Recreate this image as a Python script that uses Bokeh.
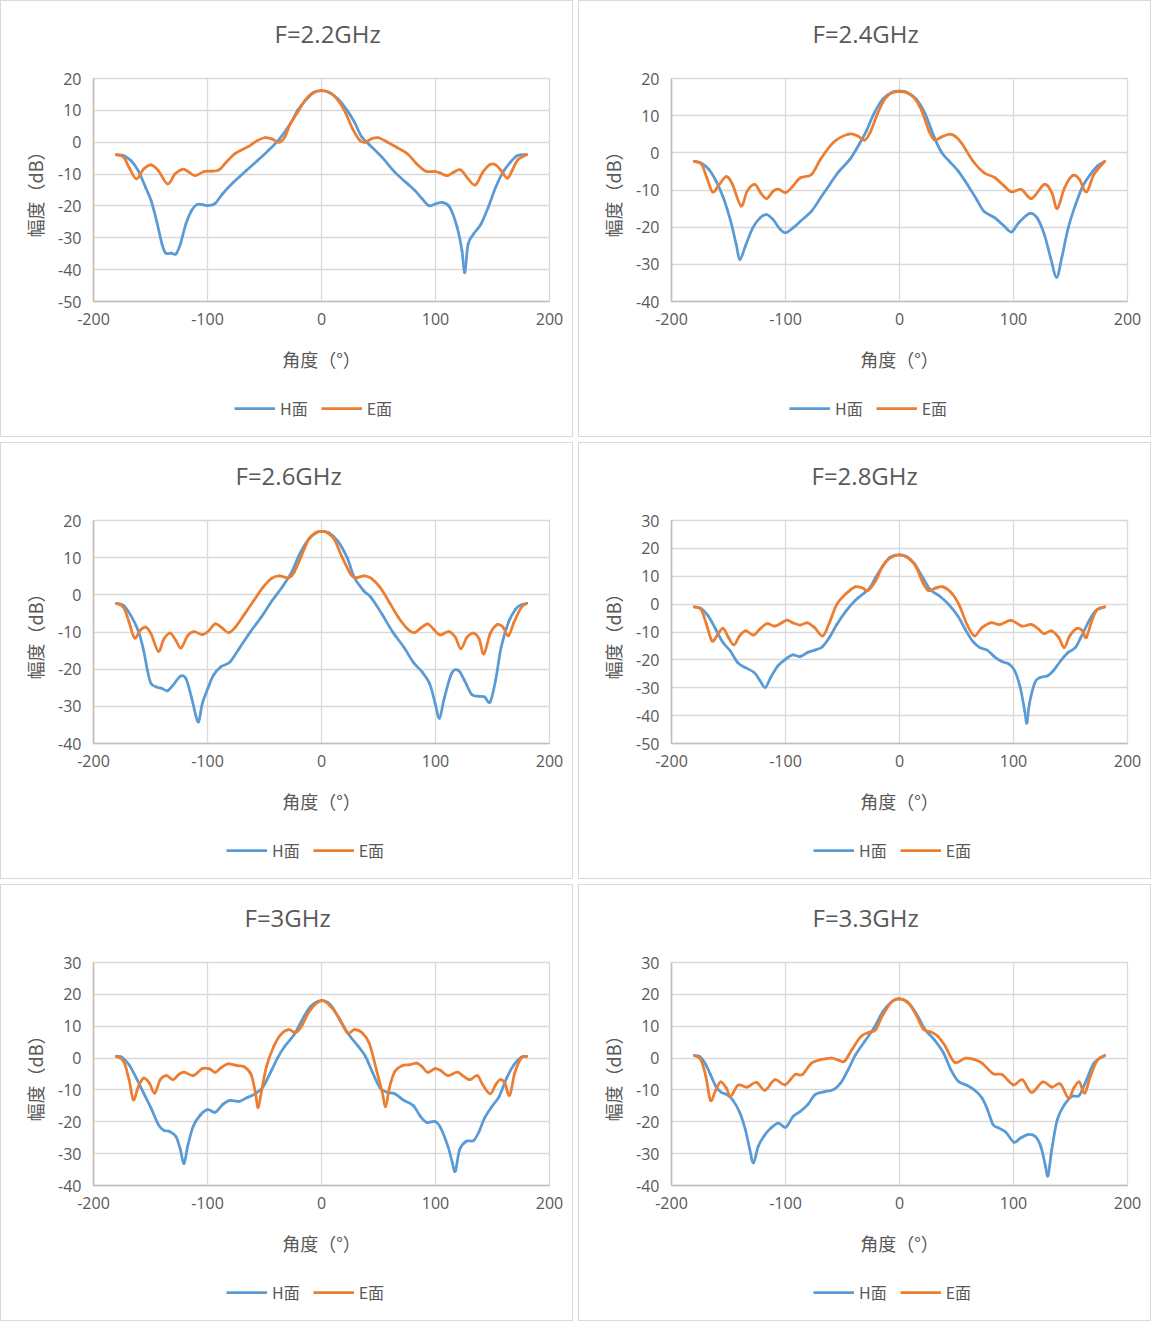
import numpy as np
from bokeh.plotting import figure
from bokeh.models import Range1d, FixedTicker, Legend, LegendItem
from bokeh.layouts import row, column
from bokeh.embed import file_html
from bokeh.resources import INLINE

# ---------------- data ----------------
titles = ["F=2.2GHz", "F=2.4GHz", "F=2.6GHz", "F=2.8GHz", "F=3GHz", "F=3.3GHz"]
series_names = ["H面", "E面"]
x_ticks = [-200, -100, 0, 100, 200]
y_limits = [(-50, 20), (-40, 20), (-40, 20), (-50, 30), (-40, 30), (-40, 30)]

# F=2.2GHz
h22_x = [-180, -173.6, -167, -160.8, -154.3, -149.5, -144.7, -139.9, -136.7, -131.8, -127.7, -123.8, -119, -114.1, -109.3, -104.5, -99.7, -93.2, -86.8, -77.2, -65.9, -56.3, -46.6, -37, -27.3, -20.9, -12.9, -6.4, 0, 6.4, 14.5, 22.5, 28.9, 35.4, 41.8, 53, 64.3, 74, 82, 88.4, 94.2, 99.7, 106.1, 112.5, 119, 123.2, 125.7, 128.6, 133.4, 139.9, 146.3, 152.7, 159.2, 165.6, 172, 180]
h22_y = [-4, -4.2, -5.8, -8.9, -14.2, -18.3, -24.6, -32, -34.8, -34.8, -35.1, -32, -25.7, -21.5, -19.6, -19.6, -19.9, -19.2, -16.2, -12.6, -8.9, -5.8, -2.6, 1, 5.8, 10, 13.6, 15.7, 16.2, 15.7, 13.6, 10, 6.3, 1.6, -0.7, -4.7, -9.4, -12.6, -15.2, -17.8, -19.9, -19.4, -18.9, -20.4, -26.7, -34, -40.9, -32, -28.8, -25.7, -20.4, -14.2, -9.4, -6.3, -4.2, -3.9]
e22_x = [-180, -173.6, -168.8, -162.4, -156, -149.5, -143.1, -135, -128.6, -122.2, -117.4, -110.9, -102.9, -96.5, -90, -83.6, -75.6, -64.3, -56.3, -49.8, -43.4, -37, -32.2, -27.3, -20.9, -14.5, -8, 0, 8, 14.5, 20.9, 27.3, 33.8, 38.6, 43.4, 49.8, 57.9, 65.9, 75.6, 83.6, 91.6, 99.7, 104.5, 110.3, 115.8, 122.2, 128.6, 135, 141.5, 147.9, 152.7, 157.6, 163, 167.2, 172, 180]
e22_y = [-3.9, -4.7, -7.9, -11.5, -8.4, -7.1, -8.9, -13.1, -10, -8.5, -9.1, -10.5, -9.2, -9.1, -8.7, -6.3, -3.5, -1.4, 0.5, 1.4, 1, 0, 1.6, 5.8, 9.4, 13.1, 15.4, 16.2, 15.4, 13.1, 9.4, 4.2, 0.5, 0, 1, 1.4, 0, -1.6, -3.7, -6.8, -9.1, -9.2, -9.7, -10.5, -9.4, -8.7, -11.5, -13.4, -9.4, -7, -7.1, -8.9, -11.3, -8.9, -5.6, -3.9]

# F=2.4GHz
h24_x = [-180, -173.8, -167.4, -160.9, -154.5, -148.1, -143.2, -140, -135.2, -128.7, -122.3, -116.5, -111, -104.6, -99.8, -93.4, -86.9, -77.2, -69.2, -61.2, -53.1, -43.4, -35.4, -29, -22.5, -14.5, -6.4, 0, 6.4, 14.5, 22.5, 30.6, 37, 43.5, 51.5, 59.5, 67.6, 74, 83.7, 91.7, 98.2, 104.6, 114.3, 120.7, 127.1, 132.6, 137.8, 142.3, 148, 154.5, 160.9, 167.4, 173.8, 180]
h24_y = [-2.3, -2.8, -4.4, -7.6, -12.1, -18.4, -24.7, -28.7, -25.1, -20.2, -17.5, -16.6, -17.9, -20.6, -21.5, -20.2, -18.4, -15.7, -12.1, -8.5, -5, -1.7, 2.3, 5.9, 10.5, 14.5, 16.3, 16.6, 16.3, 14.5, 10.5, 4.1, 0.1, -2.2, -4.9, -8.5, -12.5, -15.7, -17.5, -19.7, -21.3, -18.8, -16.3, -17.5, -22, -28.3, -33.5, -28.3, -20.2, -13.9, -8.9, -5.8, -3.5, -2.3]
e24_x = [-180, -173.8, -169, -164, -159, -152, -146.5, -139, -133.6, -127, -122, -116.6, -110.8, -106, -99.8, -93.4, -86.9, -77.2, -69.2, -58, -45, -37, -30.6, -25.7, -19.3, -12.9, -6.4, 0, 6.4, 12.9, 19.3, 25.7, 30.6, 37, 43.5, 49, 54.7, 64.4, 74, 83.7, 91.7, 98.2, 107, 115.9, 127, 133.6, 138.4, 144.8, 151.9, 157.7, 164, 170.6, 180]
e24_y = [-2.3, -3, -6.7, -10.5, -8.9, -6.4, -8.5, -14.3, -10.3, -8.5, -10.7, -12.3, -10.3, -9.8, -10.7, -8.9, -6.7, -5.8, -1.7, 2.8, 5, 4.6, 3.4, 5.5, 10.5, 14.5, 16.2, 16.5, 16.2, 14.8, 11.5, 6, 3.5, 4.3, 5, 4.4, 2.5, -2.2, -5.3, -6.7, -8.9, -10.5, -9.9, -12.3, -8.5, -10.7, -15, -9.4, -6.1, -7.1, -10.5, -5.8, -2.3]

# F=2.6GHz
h26_x = [-180, -173.6, -167.2, -160.8, -156, -152.7, -149.5, -144.7, -139.9, -135, -130.2, -123.8, -119, -114.1, -110.3, -107.7, -104.5, -99.7, -94.9, -88.4, -80.4, -72.3, -62.7, -53.1, -43.4, -33.8, -25.7, -19.3, -11.3, -4.8, 0, 6.4, 14.5, 22.5, 28.9, 37, 43.4, 53.1, 62.7, 72.3, 80.4, 88.4, 94.9, 99.7, 103.5, 107.7, 114.1, 119.9, 125.4, 131.8, 138.3, 143.1, 147.9, 152.7, 157.6, 164, 170.4, 175.2, 180]
h26_y = [-2.3, -2.9, -5.6, -9.6, -15, -20.3, -23.9, -24.8, -25.2, -25.8, -24.3, -21.9, -22.5, -27.5, -32.4, -34.1, -29.2, -25.2, -21.7, -19.4, -18.1, -14.5, -10.1, -6.1, -1.6, 2.4, 6.4, 10.9, 14.9, 16.7, 17.1, 16.7, 14.4, 10, 4.6, 1.1, -0.7, -5.2, -10.1, -14.1, -18.1, -20.8, -23.9, -29.2, -33.2, -27.8, -21.2, -20.3, -23, -26.8, -27.3, -27.5, -28.8, -23, -14.1, -7.4, -3.8, -2.7, -2.3]
e26_x = [-180, -173.6, -168.8, -164, -159.2, -154.3, -149.5, -143.1, -138.3, -132.8, -127.7, -123.2, -117.4, -111.9, -104.5, -98.7, -93.2, -86.8, -81.4, -75.6, -67.5, -59.5, -51.4, -43.4, -37, -28.9, -24.1, -17.7, -11.3, -4.8, 0, 4.8, 11.3, 17.7, 25.7, 30.5, 37, 43.4, 51.4, 59.5, 67.5, 75.6, 81.4, 86.8, 93.2, 98.1, 103.9, 111.6, 117.4, 122.2, 127.7, 133.4, 138.3, 142.4, 147.9, 154.3, 159.2, 164, 168.8, 175.2, 180]
e26_y = [-2.3, -3.4, -7.4, -11.6, -9.6, -8.7, -10.5, -15.2, -11.9, -10.3, -12.3, -14.3, -11, -9.9, -10.7, -9.6, -7.8, -9, -10.2, -8.7, -5.2, -1.6, 2, 4.5, 5.1, 4.6, 6, 10.4, 14.9, 16.8, 17.1, 16.8, 14.9, 10.4, 5.5, 4.6, 5.1, 4.5, 2, -2, -6.1, -9.2, -10.2, -9, -7.8, -9.2, -10.8, -9.9, -11.4, -14.5, -11.4, -10.3, -11.9, -15.9, -10.5, -8, -8.7, -11, -7.4, -3.4, -2.3]

# F=2.8GHz
h28_x = [-180, -174.1, -167.7, -161.2, -154.8, -148.4, -141.9, -135.5, -127.5, -122.6, -117.8, -113, -106.5, -100.1, -93.7, -87.2, -80.8, -74.3, -67.9, -61.5, -55, -47, -38.9, -30.9, -26.1, -21.2, -14.8, -8.4, 0, 6.1, 12.6, 20.6, 27, 35.1, 43.1, 51.2, 57.6, 64, 70.5, 76.9, 83.4, 89.8, 96.2, 101.1, 105.9, 109.8, 111.7, 113.9, 118.8, 123.6, 130, 134.9, 141.3, 147.7, 154.2, 159, 165.4, 171.9, 180]
h28_y = [-1, -1.5, -4.3, -9, -13.8, -16.8, -21, -22.7, -24.5, -27.3, -29.9, -26.3, -22.1, -19.8, -18.2, -18.8, -17.4, -16.5, -15.4, -12, -7.3, -2.5, 1.3, 4, 5.8, 9.4, 13.6, 16.8, 17.7, 17.1, 14.8, 9.4, 5.2, 2.9, -0.1, -4.3, -9, -13.2, -15.6, -16.5, -18.9, -20.6, -21.5, -23.9, -29.9, -38.2, -42.7, -35.8, -28.1, -26.3, -25.7, -23.9, -20.4, -17.4, -15.6, -12, -6.7, -2.5, -1]
e28_x = [-180, -174.1, -169.3, -164.5, -160.3, -154.8, -150, -145.2, -140.3, -134.9, -128.1, -122.6, -116.2, -109.7, -103.3, -98.5, -93.7, -87.2, -80.8, -74.3, -67.3, -61.5, -55, -47, -38.9, -32.5, -27.7, -21.2, -14.8, -8.4, 0, 7.7, 14.2, 20.6, 25.4, 31.9, 38.3, 46.3, 52.8, 59.2, 65.7, 72.1, 80.1, 88.2, 97.8, 107.5, 115.5, 122, 126.8, 133.2, 139.7, 144.5, 149.3, 155.8, 160.6, 163.8, 168.6, 173.5, 180]
e28_y = [-1, -1.9, -7.3, -13.2, -11.4, -8.7, -12, -14.6, -11.4, -9.6, -11.1, -9, -7, -7.9, -6.7, -5.7, -6.7, -7.5, -6.7, -8.5, -11.4, -6.7, -0.1, 3.7, 6.2, 5.8, 4.9, 8.2, 13.6, 16.5, 17.7, 16.5, 13.6, 7.6, 4.9, 5.8, 6.2, 3.7, -0.7, -7.3, -11.4, -8.5, -6.7, -7.3, -5.8, -7.9, -7.3, -9, -10.6, -9.6, -12, -15.6, -11.4, -8.7, -9.6, -12, -6.1, -1.9, -1]

# F=3GHz
h30_x = [-180, -175.2, -168.8, -162.4, -156, -149.5, -143.1, -138.3, -133.5, -127.7, -123.8, -120.6, -117.4, -112.5, -106.1, -99.7, -93.2, -86.8, -80.4, -72.3, -65.9, -57.9, -51.4, -45, -38.6, -32.2, -24.1, -17.7, -9.6, 0, 8, 16.1, 24.1, 32.2, 38.6, 45, 51.4, 57.9, 64.3, 72.3, 80.4, 86.8, 92.3, 99.7, 104.5, 110.9, 114.8, 117.4, 121.2, 127, 133.4, 138.3, 143.1, 149.5, 155.9, 162.4, 168.8, 175.2, 180]
h30_y = [0.5, 0.3, -2.1, -6.3, -11, -15.7, -20.9, -22.7, -23, -24.6, -28.7, -33.1, -27.7, -21.4, -17.8, -16.2, -17, -14.6, -13.3, -13.6, -12.5, -11.2, -9.1, -4.7, 0, 3.7, 7.3, 11.5, 16.2, 18, 16.7, 12, 7.3, 3.7, 0.5, -4.7, -9.4, -10.8, -11.2, -13.3, -14.9, -18.3, -20.2, -19.9, -21.9, -27.7, -32.9, -35.5, -28.7, -26.1, -25.9, -23, -18.8, -15.2, -12, -6.3, -2.1, 0.3, 0.5]
e30_x = [-180, -173.6, -168.8, -165, -160.8, -156, -151.1, -146.3, -141.5, -136, -130.2, -125.4, -120.6, -112.5, -104.5, -98.1, -93.2, -88.4, -82, -74, -67.5, -61.7, -57.9, -55.6, -52.4, -48.2, -41.8, -35.4, -28.9, -22.5, -17.7, -9.6, 0, 8, 14.5, 22.5, 28.9, 35.4, 41.8, 48.2, 53.1, 56.3, 59.5, 64.3, 70.7, 77.2, 83.6, 88.4, 93.2, 99.7, 104.5, 110.9, 119, 123.8, 130.2, 136.7, 141.5, 147.9, 152.7, 156.6, 160.8, 165, 169.5, 175.2, 180]
e30_y = [0.5, -1, -6.8, -13.1, -9.1, -6.3, -7.8, -11, -6.8, -5.5, -6.8, -5.2, -4.4, -5.5, -3.3, -3.4, -4.5, -3.1, -1.8, -2.4, -2.8, -5.2, -11, -15.5, -9.9, -2.6, 3.7, 7.5, 8.9, 8, 9.9, 15.2, 18, 16.2, 13.1, 8, 8.9, 8, 4.7, -3.7, -10.4, -15.2, -9.4, -4.2, -2.4, -2.1, -1.6, -2.8, -4.5, -3.3, -3.9, -5.5, -4.4, -5.5, -6.8, -5.5, -8.4, -11.2, -8.4, -6.8, -7.8, -11.7, -4.7, 0, 0.5]

# F=3.3GHz
h33_x = [-180, -175.4, -170.6, -165.8, -161, -156.1, -151.3, -146.4, -140, -135.2, -131.3, -128.1, -123.9, -119.1, -112.6, -106.2, -99.8, -93.3, -86.9, -80.5, -74, -66, -57.9, -51.5, -45.1, -38.6, -30.6, -22.5, -14.5, -6.4, 0, 6.4, 14.5, 22.5, 30.6, 38.6, 45.1, 51.5, 59.5, 66, 72.4, 77.2, 82.1, 86.9, 93.3, 100.4, 106.2, 112.6, 119.1, 123.9, 128.1, 130.3, 133.6, 138.4, 144.8, 151.3, 157.7, 164.1, 170.6, 180]
h33_y = [0.8, 0.5, -1.6, -5.2, -8.9, -10.8, -11.5, -13.1, -17.2, -22.5, -28.7, -32.9, -27.7, -24.6, -21.9, -20.4, -21.7, -18.3, -16.7, -14.6, -11.5, -10.6, -9.9, -7.8, -3.7, 1, 5.2, 9.4, 14.6, 17.8, 18.6, 17.8, 14.1, 8.9, 5.7, 1.6, -3.7, -7.3, -8.6, -10.1, -12.5, -16.2, -20.9, -21.9, -23.3, -26.4, -25.1, -24, -24.6, -27.7, -34, -36.9, -28.7, -19.3, -14.6, -12, -11.7, -6.8, -1.6, 0.8]
e33_x = [-180, -174.4, -169.9, -165.8, -161.6, -157.1, -151.9, -148.1, -141.6, -133.6, -125.5, -118.1, -109.4, -100.4, -91.7, -85.3, -77.2, -69.2, -59.5, -53.1, -48.3, -41.8, -33.8, -25.7, -20.9, -14.5, -6.4, 0, 8, 14.5, 20.9, 27.4, 33.8, 40.2, 48.3, 57.9, 66, 72.4, 82.1, 90.1, 99.8, 107.8, 115.9, 125.5, 133.6, 141, 148.1, 152.9, 157.7, 162.5, 167.4, 173.8, 180]
e33_y = [0.8, -0.5, -5.7, -13.3, -10.4, -7.5, -9.4, -12, -8.5, -9.1, -7.6, -10.1, -6.8, -8.4, -5.2, -5.2, -1.6, -0.5, 0, -0.7, -1, 2.6, 6.8, 8.2, 8.9, 13.6, 17.8, 18.6, 17.2, 13.6, 9.1, 8.2, 6.8, 3.7, -1.3, 0, -0.5, -1.6, -4.9, -5.2, -8.4, -6.8, -10.8, -7.5, -9.1, -8.1, -12.5, -9.4, -7.5, -11, -5.7, -0.5, 0.8]

panel_data = [
    (h22_x, h22_y, e22_x, e22_y),
    (h24_x, h24_y, e24_x, e24_y),
    (h26_x, h26_y, e26_x, e26_y),
    (h28_x, h28_y, e28_x, e28_y),
    (h30_x, h30_y, e30_x, e30_y),
    (h33_x, h33_y, e33_x, e33_y),
]

# ---------------- styling / layout ----------------
H_COLOR = "#5B9BD5"
E_COLOR = "#ED7D31"
TEXT = "#595959"
GRID = "#D9D9D9"
AXIS = "#BFBFBF"
LATIN = "Open Sans"
CJK = "Noto Sans CJK SC"
CANVAS_W = 571
FW, FH = 456, 223
LEFT, TOP, BOTTOM = 92, 77, 80
LEG_H = 55
TITLE_PX = 24
title_centers = [326, 285.5, 286.5, 285, 286, 285.5]   # title centre inside panel (px)
legend_lefts = [233, 210, 225, 234, 225, 234]          # legend left edge inside panel (px)
CHAR_EM = {"F": 0.55, "=": 0.57, ".": 0.27, "G": 0.73, "H": 0.74, "z": 0.49}


def text_width(s, px):
    return sum(CHAR_EM.get(c, 0.57) for c in s) * px * 0.978


def smooth(xs, ys):
    """Catmull-Rom smoothing (like a spreadsheet 'smoothed line') as Bezier segments."""
    x = np.asarray(xs, float)
    y = np.asarray(ys, float)
    px = np.concatenate([[x[0]], x, [x[-1]]])
    py = np.concatenate([[y[0]], y, [y[-1]]])
    n = len(x)
    return dict(
        x0=px[1:n], y0=py[1:n], x1=px[2:n + 1], y1=py[2:n + 1],
        cx0=px[1:n] + (px[2:n + 1] - px[0:n - 1]) / 6.0,
        cy0=py[1:n] + (py[2:n + 1] - py[0:n - 1]) / 6.0,
        cx1=px[2:n + 1] - (px[3:n + 2] - px[1:n]) / 6.0,
        cy1=py[2:n + 1] - (py[3:n + 2] - py[1:n]) / 6.0,
    )


def make_panel(i):
    title, ylim = titles[i], y_limits[i]
    hx, hy, ex, ey = panel_data[i]
    yt = list(range(ylim[0], ylim[1] + 1, 10))
    p = figure(frame_width=FW, frame_height=FH, output_backend="svg",
               toolbar_location=None,
               x_range=Range1d(-200, 200), y_range=Range1d(ylim[0], ylim[1]),
               min_border_left=LEFT, min_border_right=CANVAS_W - LEFT - FW,
               min_border_top=TOP, min_border_bottom=BOTTOM)
    p.title.text = title
    p.title.align = "left"
    p.title.offset = int(round(title_centers[i] - LEFT - text_width(title, TITLE_PX) / 2))
    p.title.standoff = 0
    p.title.padding = (0, 0, 1, 29)
    p.title.text_font = LATIN
    p.title.text_font_size = f"{TITLE_PX}px"
    p.title.text_font_style = "normal"
    p.title.text_color = TEXT

    p.outline_line_color = GRID
    p.outline_line_width = 1.3
    p.grid.grid_line_color = GRID
    p.grid.grid_line_width = 1.3

    p.xaxis.ticker = FixedTicker(ticks=x_ticks)
    p.yaxis.ticker = FixedTicker(ticks=yt)
    p.xaxis.major_label_overrides = {t: str(t) for t in x_ticks}
    p.yaxis.major_label_overrides = {t: str(t) for t in yt}
    for ax in (p.xaxis, p.yaxis):
        ax.axis_line_color = AXIS
        ax.axis_line_width = 1.6
        ax.major_tick_line_color = None
        ax.minor_tick_line_color = None
        ax.major_tick_out = 0
        ax.major_tick_in = 0
        ax.minor_tick_out = 0
        ax.minor_tick_in = 0
        ax.major_label_text_font = LATIN
        ax.major_label_text_font_size = "16px"
        ax.major_label_text_color = TEXT
        ax.axis_label_text_font = CJK
        ax.axis_label_text_font_size = "18px"
        ax.axis_label_text_font_style = "normal"
        ax.axis_label_text_color = TEXT
    p.xaxis.major_label_standoff = 11
    p.yaxis.major_label_standoff = 12
    p.xaxis.axis_label = "角度（°）"
    p.yaxis.axis_label = "幅度（dB）"
    p.xaxis.axis_label_standoff = 18
    p.yaxis.axis_label_standoff = 7

    p.bezier(**smooth(hx, hy), line_color=H_COLOR, line_width=2.75, line_cap="round")
    p.bezier(**smooth(ex, ey), line_color=E_COLOR, line_width=2.75, line_cap="round")

    # legend strip underneath the chart; its series lie outside its (empty) view,
    # they only serve as the legend's line samples
    lf = figure(frame_width=CANVAS_W, frame_height=LEG_H, output_backend="svg",
                toolbar_location=None, x_axis_type=None, y_axis_type=None,
                x_range=Range1d(1000, 1001), y_range=Range1d(1000, 1001), min_border=0)
    lf.outline_line_color = None
    lh = lf.line(hx, hy, line_color=H_COLOR, line_width=2.75)
    le = lf.line(ex, ey, line_color=E_COLOR, line_width=2.75)
    legend = Legend(items=[LegendItem(label=series_names[0], renderers=[lh]),
                           LegendItem(label=series_names[1], renderers=[le])],
                    orientation="horizontal", location=(legend_lefts[i], 16),
                    border_line_color=None, background_fill_alpha=0,
                    label_text_font=CJK, label_text_font_size="16px",
                    label_text_color=TEXT, glyph_width=41, glyph_height=18,
                    spacing=13, label_standoff=5, padding=0, margin=0)
    lf.add_layout(legend, "center")
    return column(p, lf, spacing=0, styles={"border": "1px solid #D9D9D9"})


panels = [make_panel(i) for i in range(6)]
layout = column(row(panels[0], panels[1], spacing=5),
                row(panels[2], panels[3], spacing=5),
                row(panels[4], panels[5], spacing=5), spacing=5)

open("out.html", "w").write(file_html(layout, INLINE))
